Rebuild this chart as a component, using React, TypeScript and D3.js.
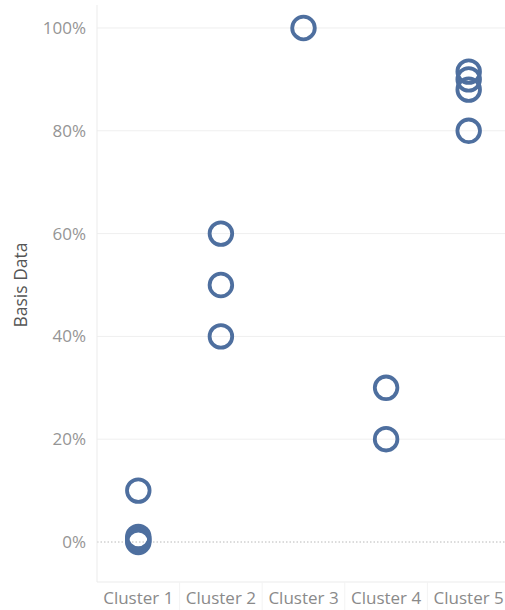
import React from "react";
import * as d3 from "d3";

const clusters = ["Cluster 1", "Cluster 2", "Cluster 3", "Cluster 4", "Cluster 5"];
const cluster1 = [0.1, 0.0, 0.003, 0.006, 0.01];
const cluster2 = [0.6, 0.5, 0.4];
const cluster3 = [1.0];
const cluster4 = [0.3, 0.2];
const cluster5 = [0.915, 0.9, 0.88, 0.8];
const yTicks = [0, 0.2, 0.4, 0.6, 0.8, 1.0];
const yLabel = "Basis Data";

const seriesValues = [cluster1, cluster2, cluster3, cluster4, cluster5];

export default function App() {
  const W = 505, H = 610;
  const left = 97, right = 510, top = 5, bottom = 582;
  const x = d3.scaleBand().domain(clusters).range([left, right]);
  const y = d3.scaleLinear().domain([-0.0778, 1.0447]).range([bottom, top]);
  const fmt = d3.format(".0%");
  const font = "'Open Sans', 'Lato', sans-serif";
  const points = clusters.flatMap((c, i) => seriesValues[i].map((v) => ({ c, v })));
  return (
    <svg width={W} height={H} style={{ position: "absolute", left: 0, top: 0, background: "#fff" }}>
      {yTicks.filter((t) => t !== 0).map((t) => (
        <line key={t} x1={left} x2={right} y1={y(t)} y2={y(t)} stroke="#efefef" strokeWidth={1} />
      ))}
      <line x1={left} x2={right} y1={y(0)} y2={y(0)} stroke="#b8b8b8" strokeWidth={1} strokeDasharray="1.5,2" />
      <line x1={left} x2={left} y1={top} y2={bottom} stroke="#ebebeb" strokeWidth={1} />
      <line x1={left} x2={right} y1={bottom} y2={bottom} stroke="#ebebeb" strokeWidth={1} />
      {clusters.slice(1).map((c) => (
        <line key={c} x1={x(c)!} x2={x(c)!} y1={bottom} y2={H} stroke="#f3f3f3" strokeWidth={1} />
      ))}
      {yTicks.map((t) => (
        <text key={t} x={86} y={y(t)} dy="0.35em" textAnchor="end" fontFamily={font} fontSize={17} fill="#959595">
          {fmt(t)}
        </text>
      ))}
      {clusters.map((c) => (
        <text key={c} x={x(c)! + x.bandwidth() / 2} y={604} textAnchor="middle" fontFamily={font} fontSize={17} fill="#8a8a8a">
          {c}
        </text>
      ))}
      <text
        transform={`translate(27,${(y(0) + y(1)) / 2}) rotate(-90)`}
        textAnchor="middle"
        fontFamily={font}
        fontSize={17.5}
        fill="#555"
      >
        {yLabel}
      </text>
      {points.map((p, i) => (
        <circle
          key={i}
          cx={x(p.c)! + x.bandwidth() / 2}
          cy={y(p.v)}
          r={11.3}
          fill="none"
          stroke="#4e6f9f"
          strokeWidth={3.8}
        />
      ))}
    </svg>
  );
}
